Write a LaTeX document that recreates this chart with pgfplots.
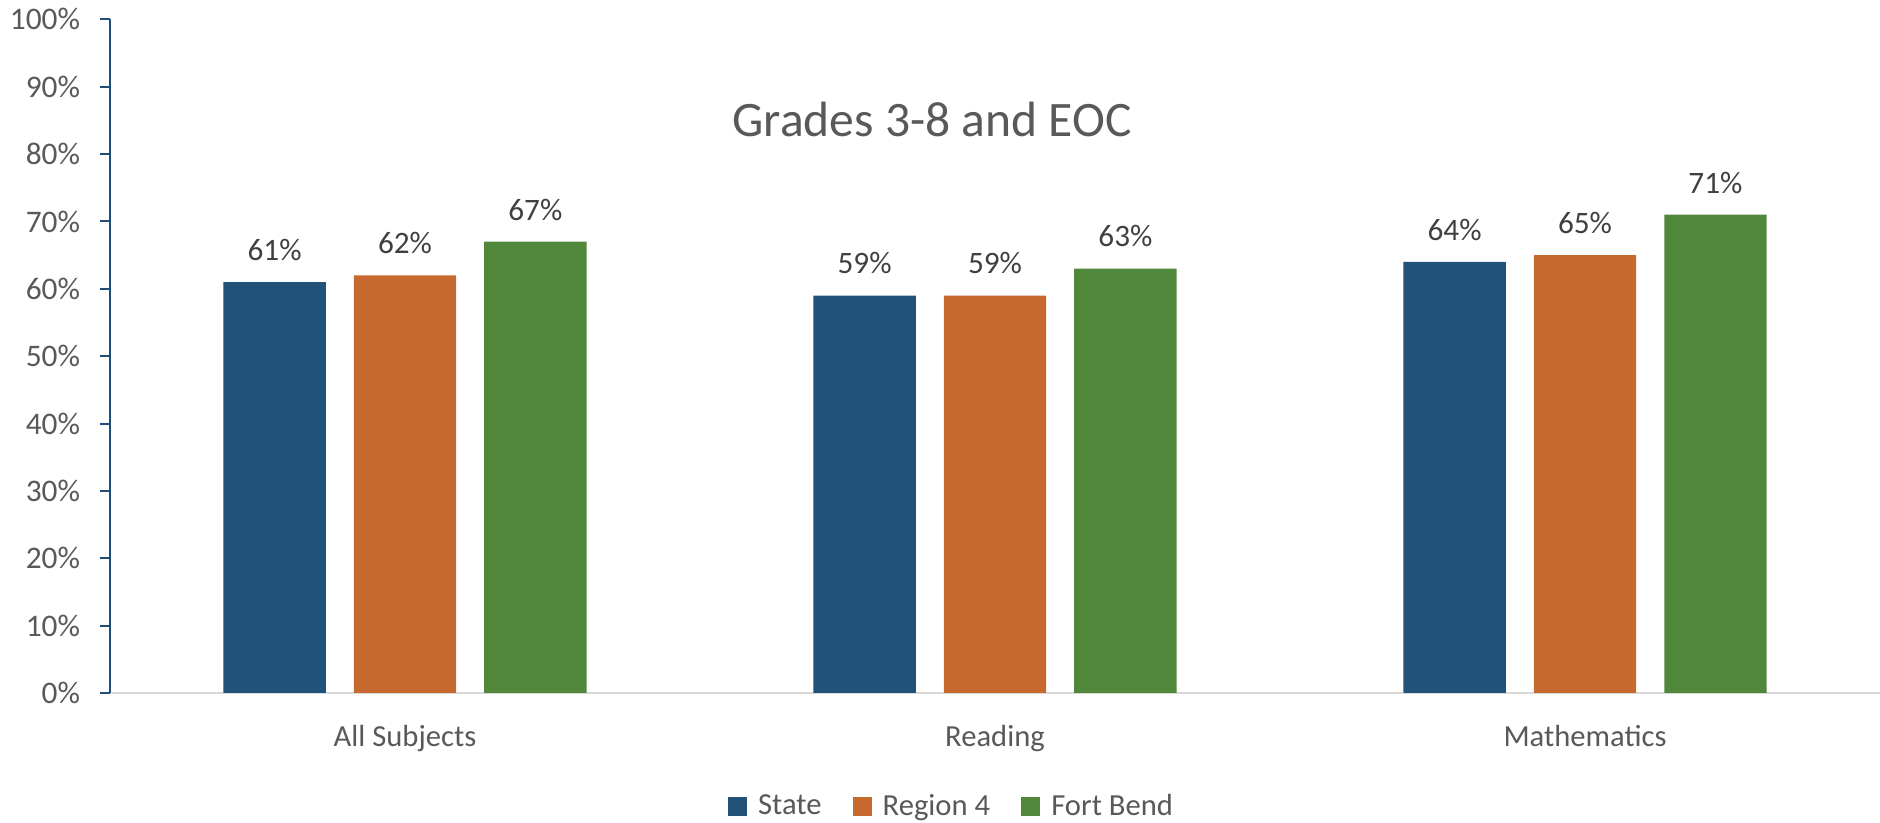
\documentclass[border=0pt]{standalone}
\usepackage{fontspec}
\setmainfont{Carlito}
\usepackage{pgfplots}
\pgfplotsset{compat=1.18}
\definecolor{cState}{RGB}{33,82,121}
\definecolor{cRegion}{RGB}{198,105,46}
\definecolor{cFort}{RGB}{81,135,59}
\definecolor{txt}{RGB}{89,89,89}
\definecolor{lbl}{RGB}{64,64,64}
\definecolor{yax}{RGB}{31,78,121}
\definecolor{xax}{RGB}{217,217,217}
\newcommand{\tf}{\fontsize{15.3}{18}\selectfont}
\newcommand{\yf}{\fontsize{15.7}{18}\selectfont}
\begin{document}
\begin{tikzpicture}
\useasboundingbox (0,0) rectangle (940pt,411.5pt);
\begin{axis}[
  at={(55pt,65pt)}, anchor=south west,
  scale only axis, width=885pt, height=336.8pt,
  xmin=-0.5, xmax=2.5, ymin=0, ymax=100,
  axis lines*=left,
  x axis line style={xax, line width=1.2pt},
  y axis line style={yax, line width=1pt},
  tick align=outside, major tick length=5pt,
  xtick={0,1,2}, xticklabels={All Subjects, Reading, Mathematics},
  xtick style={draw=none},
  ytick={0,10,...,100},
  yticklabels={0\%,10\%,20\%,30\%,40\%,50\%,60\%,70\%,80\%,90\%,100\%},
  ytick style={yax, line width=1pt},
  xticklabel style={font=\tf, text=txt, anchor=base, yshift=-22pt},
  yticklabel style={font=\yf, text=txt, anchor=east, inner sep=1.75pt, xshift=-8pt},
  ybar,
  nodes near coords={\pgfmathprintnumber[assume math mode=true]{\pgfplotspointmeta}\%},
  every node near coord/.append style={font=\fontsize{15.6}{18}\selectfont, text=lbl, anchor=south, inner sep=0pt, yshift=10.5pt},
  title={Grades 3-8 and EOC},
  title style={at={(rel axis cs:0.4645,0.833)}, anchor=center, font=\fontsize{24.8}{30}\selectfont, text=txt},
  legend columns=-1,
  legend style={at={(rel axis cs:0.476,-0.168)}, anchor=center, draw=none, font=\tf, text=txt,
    /tikz/every even column/.append style={column sep=13.6pt}},
]
\addplot[fill=cState, draw=none, bar width=0.1734, bar shift=-0.221,
  legend image code/.code={\fill[cState] (0pt,-4.75pt) rectangle (9.5pt,4.75pt);\path (13pt,0pt);}]
  coordinates {(0,61) (1,59) (2,64)};
\addlegendentry{State}
\addplot[fill=cRegion, draw=none, bar width=0.1734, bar shift=0,
  legend image code/.code={\fill[cRegion] (0pt,-4.75pt) rectangle (9.5pt,4.75pt);\path (13pt,0pt);}]
  coordinates {(0,62) (1,59) (2,65)};
\addlegendentry{Region 4}
\addplot[fill=cFort, draw=none, bar width=0.1734, bar shift=0.221,
  legend image code/.code={\fill[cFort] (0pt,-4.75pt) rectangle (9.5pt,4.75pt);\path (13pt,0pt);}]
  coordinates {(0,67) (1,63) (2,71)};
\addlegendentry{Fort Bend}
\end{axis}
\end{tikzpicture}
\end{document}
